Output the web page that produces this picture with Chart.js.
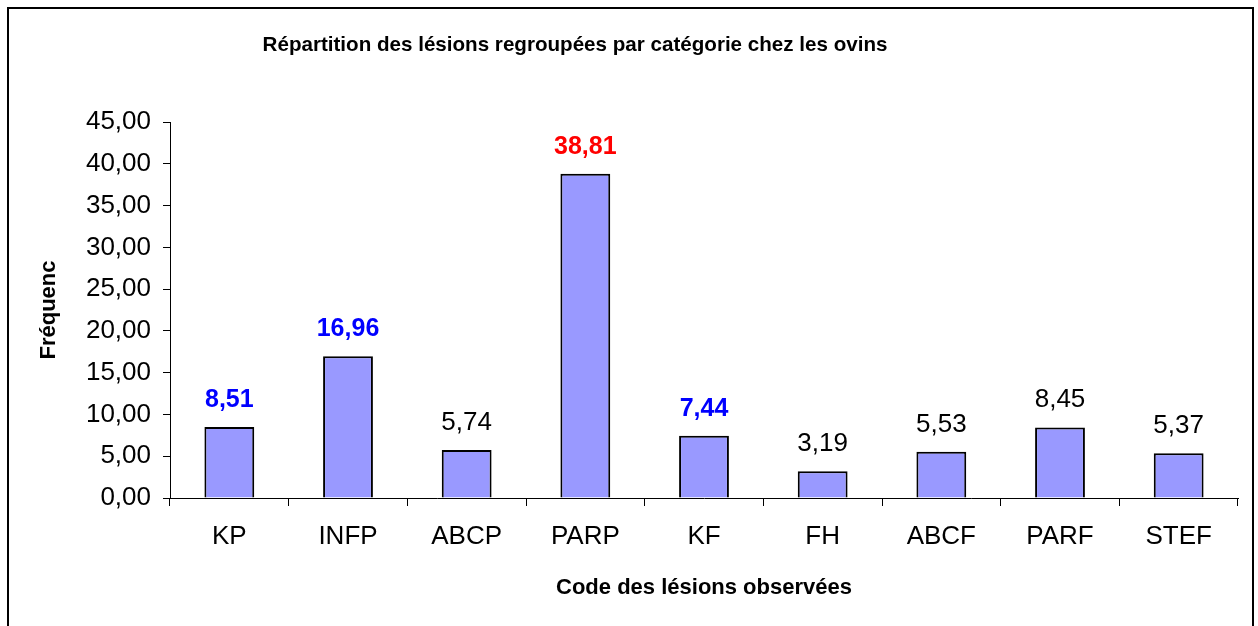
<!DOCTYPE html>
<html>
<head>
<meta charset="utf-8">
<script src="https://cdn.jsdelivr.net/npm/chart.js@4"></script>
<style>
  body { margin: 0; background: #fff; overflow: hidden; }
  #wrap { position: relative; width: 1258px; height: 626px; }
  #frame { position: absolute; left: 7px; top: 7px; width: 1247px; height: 640px; border: 2px solid #000; box-sizing: border-box; }
  canvas { position: absolute; left: 0; top: 0; }
</style>
</head>
<body>
<div id="wrap">
  <canvas id="graphic" width="1258" height="626"></canvas>
  <div id="frame"></div>
</div>
<script>
const categories = ['KP', 'INFP', 'ABCP', 'PARP', 'KF', 'FH', 'ABCF', 'PARF', 'STEF'];
const frequences = [8.51, 16.96, 5.74, 38.81, 7.44, 3.19, 5.53, 8.45, 5.37];
const couleursEtiquettes = ['#0000FF', '#0000FF', '#000000', '#FF0000', '#0000FF', '#000000', '#000000', '#000000', '#000000'];
const etiquettesGras = [true, true, false, true, true, false, false, false, false];

const titre = 'Répartition des lésions regroupées par catégorie chez les ovins';
const police = 'Arial, "Liberation Sans", sans-serif';

const virgule = (v) => v.toFixed(2).replace('.', ',');

Chart.defaults.font.family = police;
Chart.defaults.color = '#000';

// titre + valeurs au-dessus des barres
const etiquettes = {
    id: 'etiquettes',
    afterDatasetsDraw(chart) {
        const c = chart.ctx;
        c.save();
        c.textAlign = 'center';
        c.textBaseline = 'alphabetic';
        chart.getDatasetMeta(0).data.forEach((bar, i) => {
            c.font = (etiquettesGras[i] ? 'bold 25px ' : '26px ') + police;
            c.fillStyle = couleursEtiquettes[i];
            c.fillText(virgule(frequences[i]), bar.x, bar.y - 20);
        });
        c.font = 'bold 20.6px ' + police;
        c.fillStyle = '#000';
        c.textBaseline = 'middle';
        c.fillText(titre, 575, 45);
        c.restore();
    }
};

new Chart(document.getElementById('graphic'), {
    type: 'bar',
    data: {
        labels: categories,
        datasets: [{
            data: frequences,
            backgroundColor: '#9999FF',
            borderColor: '#000',
            borderWidth: 2,
            barPercentage: 0.42,
            categoryPercentage: 1
        }]
    },
    options: {
        responsive: false,
        animation: false,
        layout: { padding: { top: 122, right: 20, bottom: 0, left: 0 } },
        plugins: { legend: { display: false }, tooltip: { enabled: false } },
        scales: {
            x: {
                grid: { drawOnChartArea: false, tickLength: 8, color: '#000' },
                border: { color: '#000' },
                ticks: { font: { size: 26 }, padding: 15, color: '#000' },
                title: { display: true, text: 'Code des lésions observées', font: { size: 22, weight: 'bold' }, padding: { bottom: 25 } },
                afterFit: (s) => { s.height = 128; }
            },
            y: {
                min: 0,
                max: 45,
                grid: { drawOnChartArea: false, tickLength: 7, color: '#000' },
                border: { color: '#000' },
                ticks: { stepSize: 5, font: { size: 26 }, padding: 12, color: '#000', callback: (v) => virgule(v) },
                title: { display: true, text: 'Fréquenc', font: { size: 22, weight: 'bold' }, padding: { top: 36 } },
                afterFit: (s) => { s.width = 170; }
            }
        }
    },
    plugins: [etiquettes]
});
</script>
</body>
</html>
